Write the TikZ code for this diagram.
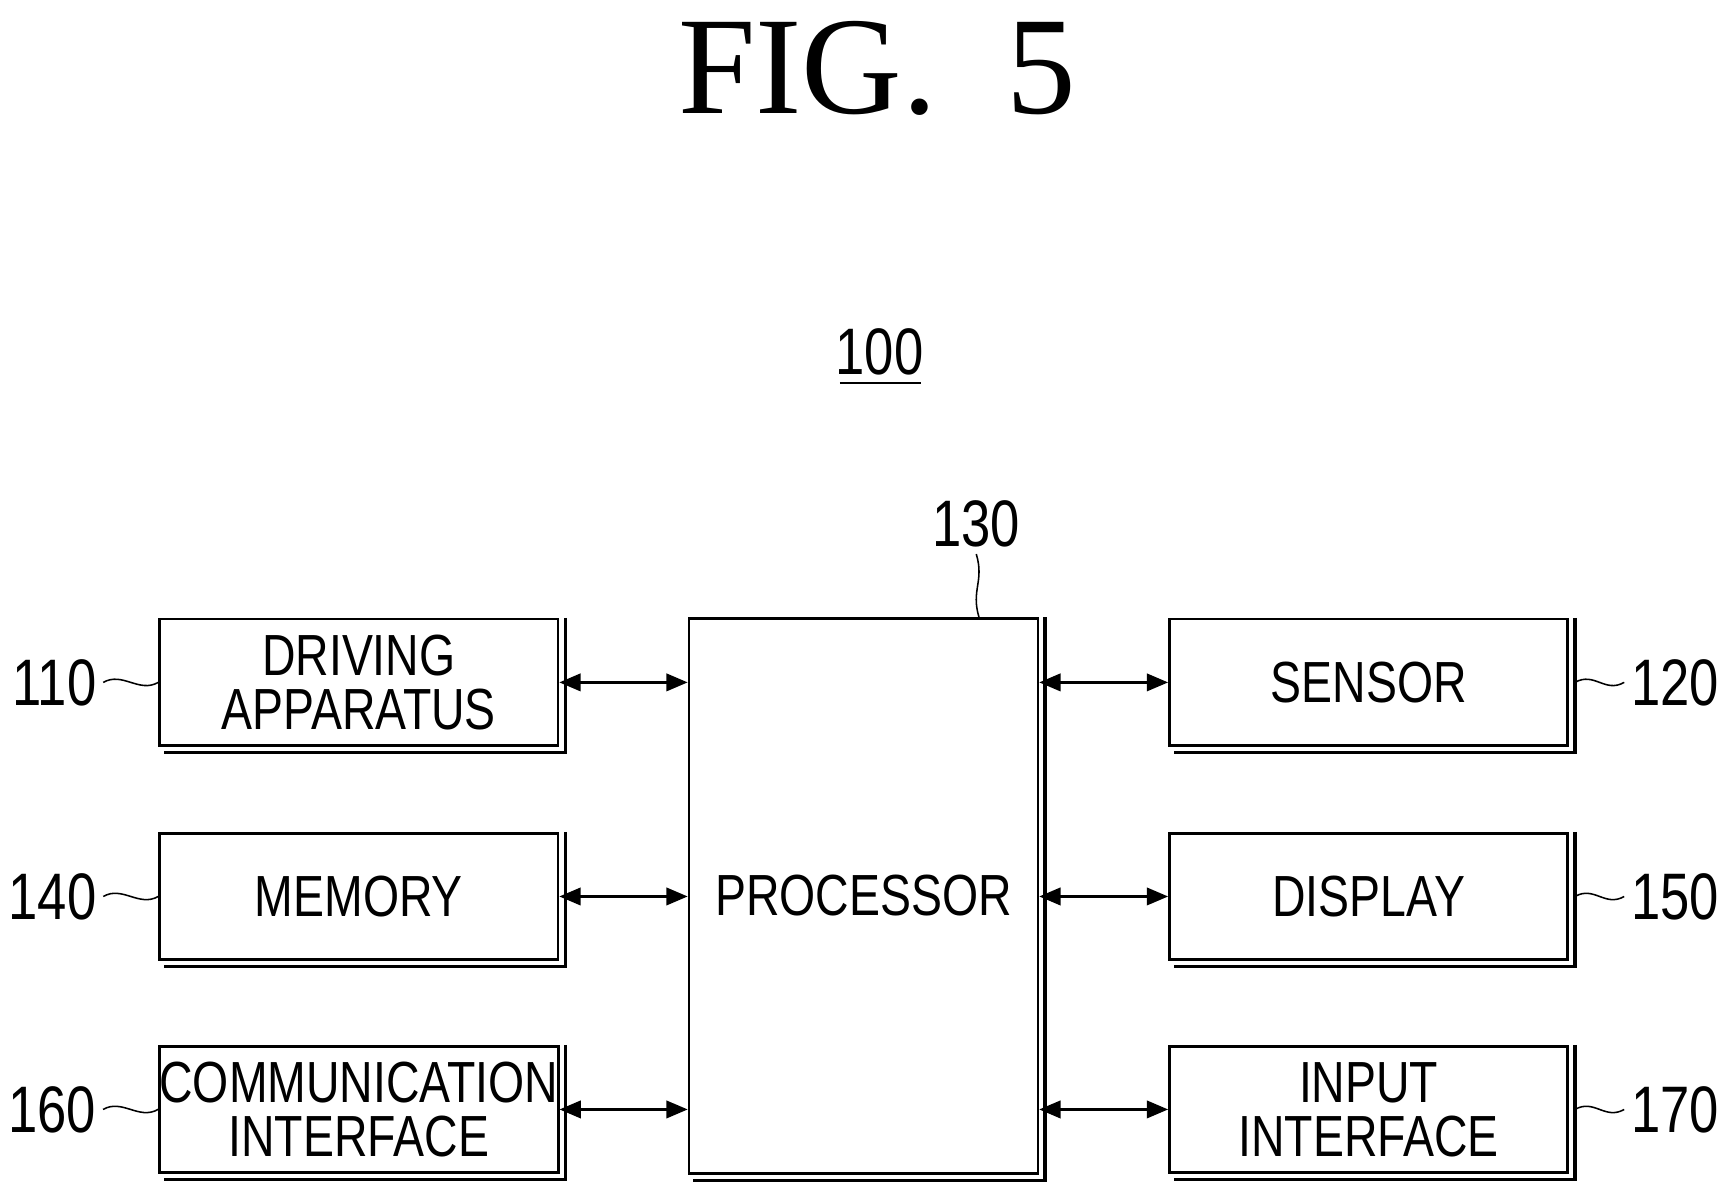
\documentclass[tikz,border=0pt]{standalone}
\usepackage{fontspec}
\setmainfont{Liberation Serif}
\newfontfamily\boxfont[FakeStretch=0.8]{Liberation Sans}
\usetikzlibrary{arrows.meta}

\begin{document}
\begin{tikzpicture}[x=0.02cm, y=-0.02cm,
		blk/.style = {
			shape = rectangle,
			draw, line width = 1.4pt,
			minimum width = 7.24cm,
			minimum height = 2.3cm,
			align = center,
			font = \boxfont\fontsize{30}{32}\selectfont,
			inner sep = 0pt,
		},
		shd/.style = {draw, line width = 1.6pt},
		lbl/.style = {font = \boxfont\fontsize{34}{36}\selectfont},
		link/.style = {line width = 1.3pt, {Triangle[length=11pt,width=9pt]}-{Triangle[length=11pt,width=9pt]}},
		wave/.style = {line width = 0.8pt},
	]
	\useasboundingbox (0,0) rectangle (1560,1084);

	\node[font = \fontsize{72}{72}\selectfont] (fig) at (797,62) {FIG.\ \ 5};
	\node[lbl] (sys) at (799,320) {100};
	\draw[line width = 1pt] (763,348) -- (837,348);

	% processor
	\node[blk, minimum width = 6.34cm, minimum height = 10.08cm] (proc) at (784.5,814) {PROCESSOR};

	% left blocks
	\node[blk] (drv) at (326,620) {DRIVING\\[-4pt]APPARATUS};
	\node[blk] (mem) at (326,814.5) {MEMORY};
	\node[blk] (com) at (326,1008) {COMMUNICATION\\[-4pt]INTERFACE};

	% right blocks
	\node[blk] (sen) at (1243.5,620) {SENSOR};
	\node[blk] (dis) at (1243.5,814.5) {DISPLAY};
	\node[blk] (inp) at (1243.5,1008) {INPUT\\[-4pt]INTERFACE};

	% shadows
	\foreach \n in {drv, mem, com, sen, dis, inp, proc}
		\draw[shd] ([xshift=3pt]\n.north east) -- ([xshift=3pt,yshift=-3pt]\n.south east) -- ([xshift=3pt,yshift=-3pt]\n.south west);

	% connectors
	\foreach \n in {drv, mem, com}
		\draw[link] (\n.east) -- (\n.east -| proc.west);
	\foreach \n in {sen, dis, inp}
		\draw[link] (\n.west -| proc.east) -- (\n.west);

	% reference numerals
	\foreach \n/\t in {drv/110, mem/140, com/160} {
		\node[lbl, anchor = east] (l\t) at ([xshift=-1.0cm]\n.west) {\t};
		\draw[wave] (l\t.east) .. controls +(0.35cm,0.2cm) and +(-0.35cm,-0.2cm) .. (\n.west);
	}
	\foreach \n/\t in {sen/120, dis/150, inp/170} {
		\node[lbl, anchor = west] (l\t) at ([xshift=1.0cm]\n.east) {\t};
		\draw[wave] ([xshift=3pt]\n.east) .. controls +(0.35cm,0.2cm) and +(-0.35cm,-0.2cm) .. (l\t.west);
	}
	\node[lbl] (l130) at (887,476) {130};
	\draw[wave] (l130.south) .. controls +(0.15cm,-0.5cm) and +(-0.15cm,0.5cm) .. ([xshift=2.1cm]proc.north);
\end{tikzpicture}
\end{document}
